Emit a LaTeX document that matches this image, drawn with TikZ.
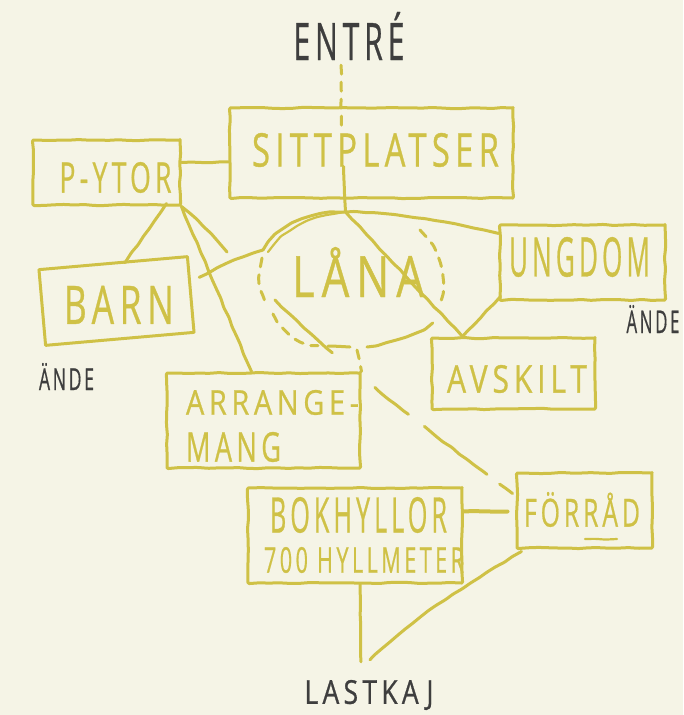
\documentclass[tikz,border=0pt]{standalone}
\usepackage{fontspec}
\setmainfont{Open Sans}[LetterSpace=16, FakeBold=0.8]
\usepackage{graphicx}
\usetikzlibrary{decorations.pathmorphing,calc}
\definecolor{paper}{HTML}{F5F4E6}
\definecolor{ink}{HTML}{CFC146}
\definecolor{pencil}{HTML}{3E3E3E}
\newcommand\fitt[3]{\resizebox*{#1pt}{#2pt}{#3}}
\newcommand\offs[3]{\raisebox{#2pt}[\height][\depth]{\kern#1pt#3\kern-#1pt}}
\begin{document}
\begin{tikzpicture}[x=1pt,y=-1pt,
  sketch/.style={decorate, decoration={random steps, segment length=10pt, amplitude=0.6pt}, rounded corners=1.2pt},
  plainink/.style={draw=ink, line width=3pt, line cap=round, line join=round},
  inkline/.style={plainink, sketch},
  roombox/.style={inkline, rectangle, inner sep=0pt, text=ink},
  tiltbox/.style={plainink, rectangle, inner sep=0pt, text=ink},
  inktext/.style={text=ink, inner sep=0pt},
  pencillabel/.style={text=pencil, inner sep=0pt},
  brokenline/.style={dash pattern=on 9pt off 8pt}]
\pgfmathsetseed{7}
\fill[paper] (0,0) rectangle (683,715);
\useasboundingbox (0,0) rectangle (683,715);

% rooms
\node[roombox, minimum width=147pt, minimum height=65pt] (pytor) at (106.5,172.5) {\offs{9}{-5}{\fitt{112}{31}{P-YTOR}}};
\node[roombox, minimum width=283pt, minimum height=90pt] (sitt) at (371.5,153) {\offs{4}{3}{\fitt{247}{34}{SITTPLATSER}}};
\node[tiltbox, minimum width=149pt, minimum height=76pt, rotate=5] (barn) at (116.5,301) {\offs{2}{-4}{\rotatebox{-5}{\fitt{110}{38}{BARN}}}};
\node[roombox, minimum width=165pt, minimum height=75pt] (ungdom) at (582.5,262.5) {\offs{-3}{5.5}{\fitt{141}{40}{UNGDOM}}};
\node[roombox, minimum width=163pt, minimum height=71pt] (avskilt) at (513.5,373.5) {\offs{3.5}{-5.5}{\fitt{140}{28}{AVSKILT}}};
\node[roombox, minimum width=193pt, minimum height=95pt] (arr) at (263.5,420.5) {\offs{9}{-5.5}{\vbox{\offinterlineskip\hbox{\fitt{173}{25}{ARRANGE-}}\kern17pt\hbox{\fitt{95}{30}{MANG}}}}};
\node[roombox, minimum width=214pt, minimum height=95pt] (bok) at (355,535.5) {\offs{9}{0.5}{\vbox{\offinterlineskip\hbox{\kern6pt\fitt{177}{36}{BOKHYLLOR}}\kern14pt\hbox{\fitt{200}{26}{700 HYLLMETER}}}}};
\node[roombox, minimum width=135pt, minimum height=75pt] (forrad) at (584.5,510.5) {\offs{-2.5}{1}{\fitt{116}{35}{FÖRRÅD}}};
\node[inktext] (lana) at (358,272) {\fitt{132}{50}{LÅNA}};

% pencil labels
\node[pencillabel] (entre) at (349,36) {\fitt{111}{48}{ENTRÉ}};
\node[pencillabel] (andeL) at (66.5,376.5) {\fitt{55}{27}{ÄNDE}};
\node[pencillabel] (andeR) at (653,319) {\fitt{53}{28}{ÄNDE}};
\node[pencillabel] (lastkaj) at (369,695) {\fitt{129}{30}{LASTKAJ}};

% the loan area outline
\coordinate (lanatop) at (345.5,212);
\draw[inkline] (263,250) .. controls (282,220) and (315,212) .. (lanatop);
\draw[inkline, line width=2.2pt] (268,252) .. controls (285,228) and (312,216) .. (lanatop);
\draw[inkline, brokenline] (262,258) .. controls (258,280) .. (266,305);
\draw[inkline, brokenline] (273,314) .. controls (285,335) and (300,345) .. (318,345);
\draw[inkline] (328,346) -- (350,347);
\draw[inkline] (367,347) .. controls (395,342) and (420,335) .. (432,322);
\draw[inkline, brokenline] (420,230) .. controls (440,250) and (448,280) .. (440,302);

% connectors
\draw[inkline, brokenline] ($(entre.south)+(-8,5)$) -- ($(sitt.north)+(-30,20)$);
\draw[inkline] ($(sitt.south)+(-28,-33)$) -- (lanatop);
\draw[inkline] ($(pytor.east)+(0,-10)$) -- ($(sitt.west)+(0,9)$);
\draw[inkline] ($(pytor.south east)+(-15,-3)$) -- ($(barn.north)+(12,1)$);
\draw[inkline] (pytor.south east) -- ($(arr.north)+(-12,0)$);
\coordinate (pyend) at (227,252);
\draw[inkline] (pytor.south east) .. controls (200,222) .. (pyend);
\draw[inkline] ($(barn.east)+(7,-17)$) .. controls (228,262) .. (263,250);
\draw[inkline] (lanatop) .. controls (390,212) and (440,220) .. ($(ungdom.west)+(0,-29)$);
\draw[inkline] (lanatop) -- ($(avskilt.north)+(-51,0)$);
\draw[inkline] ($(ungdom.south west)+(2,-5)$) -- ($(avskilt.north)+(-51,0)$);
\coordinate (lanainner) at (275,300);
\draw[inkline, dash pattern=on 78pt off 55pt on 43pt off 20pt on 79pt off 16pt on 30pt] (lanainner) .. controls (330,355) and (420,425) .. ($(forrad.north west)+(-3,22)$);
\draw[inkline, brokenline] (357,350) -- (arr.north east);
\draw[inkline, line width=4pt] ($(bok.east)+(0,-24)$) -- ($(forrad.west)+(-8,1)$);
\draw[inkline] ($(bok.south)+(5,0)$) -- ($(lastkaj.north)+(-8,-18)$);
\draw[inkline] ($(forrad.south west)+(6,2)$) .. controls (470,582) and (410,620) .. ($(lastkaj.north)+(1,-20)$);
\draw[inkline, line width=2.2pt] (585,539) -- (617,539);
\end{tikzpicture}
\end{document}
